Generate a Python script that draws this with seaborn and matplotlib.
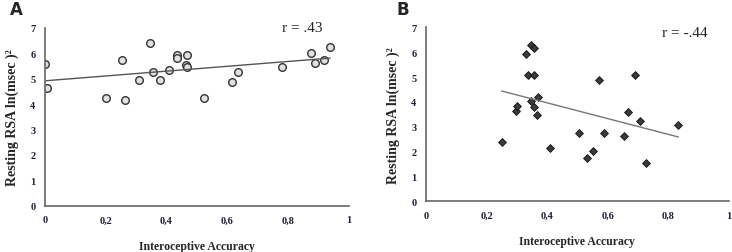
import numpy as np
import pandas as pd
import matplotlib.pyplot as plt
import seaborn as sns

# panel A data (circles)
acc_a = [0.0, 0.005, 0.20, 0.252, 0.264, 0.308, 0.344, 0.354, 0.377, 0.408, 0.433,
         0.433, 0.463, 0.466, 0.469, 0.523, 0.617, 0.634, 0.78, 0.877, 0.889, 0.917, 0.939]
rsa_a = [5.58, 4.65, 4.22, 5.75, 4.15, 4.93, 6.42, 5.27, 4.94, 5.35, 5.95,
         5.82, 5.53, 5.47, 5.95, 4.25, 4.88, 5.27, 5.45, 6.02, 5.62, 5.75, 6.26]

# panel B data (diamonds)
acc_b = [0.25, 0.298, 0.302, 0.329, 0.336, 0.346, 0.358, 0.358, 0.348, 0.358, 0.369, 0.367,
         0.409, 0.507, 0.531, 0.552, 0.573, 0.588, 0.655, 0.666, 0.689, 0.707, 0.726, 0.834]
rsa_b = [2.37, 3.65, 3.85, 5.92, 5.07, 6.27, 6.15, 5.07, 4.02, 3.81, 4.18, 3.47,
         2.13, 2.77, 1.76, 2.01, 4.89, 2.75, 2.64, 3.59, 5.09, 3.22, 1.53, 3.06]

r_labels = ["r = .43", "r = -.44"]
panel_labels = ["A", "B"]
xticks = [0, 0.2, 0.4, 0.6, 0.8, 1]
yticks = [0, 1, 2, 3, 4, 5, 6, 7]

sns.set_style("white")
plt.rcParams['font.family'] = ['Liberation Serif', 'DejaVu Serif']

fig = plt.figure(figsize=(7.32, 2.53), dpi=100)
ax_a = fig.add_axes([0.0615, 0.183, 0.415, 0.703])
ax_b = fig.add_axes([0.582, 0.200, 0.4135, 0.688])

df_a = pd.DataFrame({"acc": acc_a, "rsa": rsa_a})
df_b = pd.DataFrame({"acc": acc_b, "rsa": rsa_b})

sns.regplot(data=df_a, x="acc", y="rsa", ax=ax_a, ci=None, marker="o",
            scatter_kws=dict(s=30, facecolor="#e0e0e0", edgecolor="#333333", linewidths=1.0, alpha=1),
            line_kws=dict(color="#555555", lw=1.0))
sns.regplot(data=df_b, x="acc", y="rsa", ax=ax_b, ci=None, marker="D",
            scatter_kws=dict(s=16, color="#3a3a3a", edgecolor="#111111", linewidths=0.6, alpha=1),
            line_kws=dict(color="#777777", lw=1.0))

tick_color = "#20203a"
for ax, r, ry in zip([ax_a, ax_b], r_labels, [1.0, 0.97]):
    ax.set_xlim(0, 1)
    ax.set_ylim(0, 7)
    ax.set_xticks(xticks)
    ax.set_xticklabels([("%g" % t).replace(".", ",") for t in xticks],
                       fontsize=7.5, fontweight="bold", color=tick_color)
    ax.set_yticks(yticks)
    ax.set_yticklabels([str(t) for t in yticks], fontsize=7.5, fontweight="bold", color=tick_color)
    ax.tick_params(length=0, pad=7)
    sns.despine(ax=ax)
    for s in ["left", "bottom"]:
        ax.spines[s].set_color("#666666")
        ax.spines[s].set_linewidth(1.2)
    ax.set_xlabel("Interoceptive Accuracy", fontsize=8.5, fontweight="bold", labelpad=11)
    ax.set_ylabel("Resting RSA ln(msec )\u00b2", fontsize=10, fontweight="bold", labelpad=8)
    ax.text(0.78, ry, r, transform=ax.transAxes, fontsize=11, ha="left", va="center")

fig.text(10 / 732, 1 - 10 / 253, panel_labels[0], fontsize=12, fontweight="bold",
         family=["DejaVu Sans"], ha="left", va="center")
fig.text(396 / 732, 1 - 10 / 253, panel_labels[1], fontsize=12, fontweight="bold",
         family=["DejaVu Sans"], ha="left", va="center")

fig.savefig("out.png", dpi=100, facecolor="white")
